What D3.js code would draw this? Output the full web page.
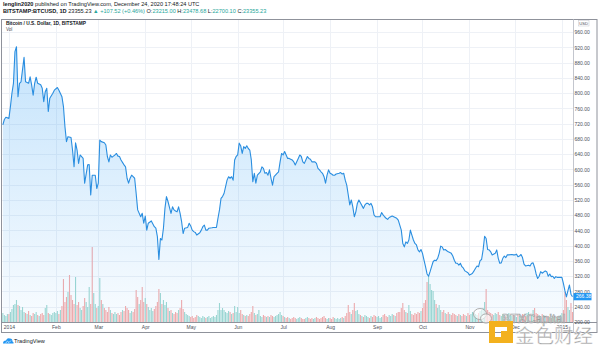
<!DOCTYPE html>
<html><head><meta charset="utf-8">
<script src="https://cdn.jsdelivr.net/npm/d3@7"></script>
<style>html,body{margin:0;padding:0;background:#fff;}svg{display:block;font-family:"Liberation Sans",Arial,sans-serif;}</style>
</head><body><svg id="c" width="600" height="348"></svg>
<script>
// Day offsets are counted from 2014-01-01
const startDate = "2014-01-01";
const monthTickDays = [0,31,59,90,120,151,181,212,243,273,304,334,365];
const monthTickLabels = ["2014","Feb","Mar","Apr","May","Jun","Jul","Aug","Sep","Oct","Nov","Dec","2015"];
const priceTicks = [200,240,280,320,360,400,440,480,520,560,600,640,680,720,760,800,840,880,920,960];

const priceDays = [
-4,-3,-2,0,1,2,3,4,5,6, 7,8,10,11,13,14,15,16,17,18, 19,21,22,23,24,25,26,27,29,30,
32,33,35,36,37,38,39,41,42,43, 44,45,46,47,49,50,52,53,54,55, 57,58,59,60,61,63,64,65,66,67,
68,69,70,71,72,73,74,76,77,78, 79,80,81,82,83,84,85,87,88,89, 90,
91,92,94,96,97,98,99,100,101,102, 103,104,105,107,108,109,110,111,112,113,
114,115,116,118,119,120,121,122,123,124, 126,127,128,129,130,131,132,134,135,137,
138,139,140,141,142,144,145,146,147,148, 149,150,151,152,153,154,155,156,157,158,
159,160,161,162,163,164,166,167,168,169, 170,171,172,173,174,175,177,178,179,180,
181,182,183,184,
185,186,187,188,189,191,192,193,194,195, 196,197,198,199,200,202,203,204,205,206,
207,208,209,210,211,212,213,214,215,216, 218,219,220,221,222,223,224,225,226,227,
228,229,230,231,232,234,235,236,237,238, 239,240,241,242,243,245,246,247,248,249,
250,251,252,253,254,256,257,258,259,260, 261,262,263,264,265,266,267,268,269,270,
271,272,273,274,275,276,277,278,
279,280,281,282,283,284,285,286,287,288, 289,290,292,293,294,295,296,297,298,299,
300,301,303,304,305,306,307,308,309,310, 311,312,313,314,315,316,317,318,319,321,
322,323,324,325,326,327,328,329,330,332, 333,334,335,336,337,338,339,340,341,343,
344,345,346,347,348,349,350,351,352,354, 355,356,357,358,359,360,361,362,363,365,
366,367,368,369,370,371,372];

const priceClose = [
717,731,737,734,765,800,826,909,922,791, 826,830,894,830,826,843,822,795,826,842, 826,822,813,778,804,813,752,787,800,808,
815,808,791,765,712,673,686,684,651,607, 670,651,616,638,629,564,612,613,533,585, 585,550,564,677,673,670,664,634,620,638,
632,635,638,642,635,634,625,612,607,577, 564,577,585,581,577,537,494,476,485,459, 478,
441,459,465,450,446,424,364,419,415,446, 498,529,516,485,502,494,491,489,502,485,
463,432,446,448,459,452,441,437,435,428, 434,441,450,454,441,441,446,447,448,448,
472,494,524,529,537,572,581,577,581,572, 625,634,638,669,662,642,660,655,662,655,
651,625,568,590,564,585,594,607,603,590, 592,585,599,577,559,581,590,594,620,642,
638,647,638,629,
629,627,625,620,612,629,638,634,620,616, 625,634,629,627,620,620,616,603,599,594,
590,581,564,585,599,590,588,585,585,588, 590,592,588,590,572,559,533,507,520,502,
476,489,511,520,513,498,507,511,511,507, 511,502,481,476,476,476,487,481,476,472,
469,474,476,478,476,472,467,454,441,406, 397,410,406,415,441,428,415,406,402,389,
384,390,380,362,345,326,320,332,
345,358,362,361,367,380,399,397,389,390, 387,384,380,373,362,354,354,349,354,345,
341,334,329,323,325,328,334,341,347,345, 361,364,389,425,419,390,389,384,376,380,
389,367,354,355,367,373,369,376,376,377, 376,376,378,371,373,377,369,352,347,349,
347,354,355,343,326,314,320,332,328,334, 332,320,326,319,320,314,319,317,317,317,
301,282,266,282,297,273,266.38];

// daily volume (thousand BTC), starting at day -4
const volumeStartDay = -4;
const volume = [
9,7,6,8,
8,10,13,17,18,22,17,16,12,15, 10,9,8,11,7,6,9,8,10,7, 6,8,9,7,14,17,9,8,7,9, 10,
9,11,8,12,16,43,20,25,30,47, 27,22,18,45,17,20,14,12,16,24, 20,15,35,18,75,29,18,14,
16,44,22,18,14,12,10,15,12,9, 8,10,8,9,7,10,12,11,16,14, 12,9,11,10,13,32,25,18,22,35, 20,
24,18,15,12,14,11,13,16,20,33, 29,18,22,17,20,14,11,12,9,8, 10,9,12,14,22,13,10,8,7,6,
5,6,4,5,7,6,5,4,6,5, 4,5,6,4,5,6,5,7,12,19, 12,14,12,10,9,11,10,8,9,16, 10,
15,9,12,8,7,6,7,6,8,10, 16,9,7,8,12,6,5,7,6,5, 6,5,7,6,5,6,7,8,10,7,
6,5,4,5,4,3,4,5,4,3, 4,5,4,3,3,4,5,4,3,4, 3,4,5,4,3,4,5,6,4,3, 4,
4,3,5,4,3,4,3,4,5,4, 6,9,17,10,8,12,19,11,12,8, 7,6,5,7,6,5,4,6,5,7, 6,
5,6,4,5,7,8,6,5,7,6, 8,7,6,9,10,10,14,19,12,10, 9,17,11,8,7,9,8,10,9,11,
14,19,22,40,46,38,32,31,22,18, 14,17,12,10,12,9,8,10,8,7, 9,8,7,6,8,7,6,8,7,6, 9,
7,8,10,9,8,7,9,11,12,14, 20,33,12,10,9,8,7,9,8,10, 7,6,8,7,6,8,9,7,6,7,
6,5,7,6,5,8,7,6,9,10, 8,7,12,14,9,8,7,6,8,7, 6,5,6,5,4,5,6,5,4,5, 7,
9,12,30,22,15,12,19,10];
const volumeUpDays = [277];
const volumeDownDays = [40, 55, 88];

const headerUser = "lenglin2020";
const headerRest = " published on TradingView.com, December 24, 2020 17:48:24 UTC";
const symbolLine = {sym:"BITSTAMP:BTCUSD, 1D", last:"23355.23", chg:"▲ +107.52 (+0.46%)", o:"23215.00", h:"23478.68", l:"22700.10", c:"23355.23"};
const legendTitle = "Bitcoin / U.S. Dollar, 1D, BITSTAMP";
const lastPrice = 266.38;

const svg = d3.select("#c");
const L = 2, R = 573, T = 20, B = 322;
const x = d3.scaleLinear().domain([-4.554, 372.34]).range([L, R]);
const y = d3.scaleLinear().domain([200, 992]).range([B, T]);
const yv = d3.scaleLinear().domain([0, 100]).range([B, B - 100]);

const data = priceDays.map((d, i) => ({d, v: priceClose[i]}));
function priceAt(day) {
  let v = data[0].v;
  for (const p of data) { if (p.d <= day) v = p.v; else break; }
  return v;
}
function isUp(day) {
  if (volumeUpDays.includes(day)) return true;
  if (volumeDownDays.includes(day)) return false;
  return priceAt(day) >= priceAt(day - 1);
}

const defs = svg.append("defs");
defs.append("clipPath").attr("id", "plot").append("rect")
  .attr("x", L).attr("y", T).attr("width", R - L).attr("height", B - T);
const grad = defs.append("linearGradient").attr("id", "ag")
  .attr("gradientUnits", "userSpaceOnUse").attr("x1", 0).attr("x2", 0).attr("y1", 30).attr("y2", B);
grad.append("stop").attr("offset", 0).attr("stop-color", "#2196f3").attr("stop-opacity", 0.28);
grad.append("stop").attr("offset", 1).attr("stop-color", "#2196f3").attr("stop-opacity", 0.03);

// grid
const g = svg.append("g").attr("clip-path", "url(#plot)");
g.selectAll("line.h").data(priceTicks).join("line")
  .attr("x1", L).attr("x2", R).attr("y1", d => Math.round(y(d)) + 0.5).attr("y2", d => Math.round(y(d)) + 0.5)
  .attr("stroke", "#eef1f6").attr("stroke-width", 1);
g.selectAll("line.v").data(monthTickDays).join("line")
  .attr("y1", T).attr("y2", B).attr("x1", d => Math.round(x(d)) + 0.5).attr("x2", d => Math.round(x(d)) + 0.5)
  .attr("stroke", "#eef1f6").attr("stroke-width", 1);

// volume
g.selectAll("rect.vol").data(volume).join("rect")
  .attr("x", (v, i) => x(volumeStartDay + i) - 0.55)
  .attr("width", 1.1)
  .attr("y", v => yv(v))
  .attr("height", v => B - yv(v))
  .attr("fill", (v, i) => isUp(volumeStartDay + i) ? "#9fd8d1" : "#f5abaa");

// area + line
const area = d3.area().x(p => x(p.d)).y0(B).y1(p => y(p.v));
const line = d3.line().x(p => x(p.d)).y(p => y(p.v));
g.append("path").datum(data).attr("d", area).attr("fill", "url(#ag)");
g.append("path").datum(data).attr("d", line).attr("fill", "none")
  .attr("stroke", "#2a8ee0").attr("stroke-width", 1.1).attr("stroke-linejoin", "round");

// frame
const frameColor = "#8f929b";
svg.append("rect").attr("x", 1.5).attr("y", 19.5).attr("width", 595.5).attr("height", 313)
  .attr("fill", "none").attr("stroke", frameColor);
svg.append("line").attr("x1", 1.5).attr("x2", 597).attr("y1", B + 0.5).attr("y2", B + 0.5).attr("stroke", frameColor);
svg.append("line").attr("x1", R + 0.5).attr("x2", R + 0.5).attr("y1", 19.5).attr("y2", 332.5).attr("stroke", "#c3c6ce");

// right axis
const yAxis = d3.axisRight(y).tickValues(priceTicks).tickSize(0).tickPadding(0).tickFormat(d3.format(".2f"));
const ya = svg.append("g").attr("transform", `translate(${R + 1.5},0)`).call(yAxis);
ya.select(".domain").remove();
ya.selectAll("text").attr("font-size", 5).attr("fill", "#4c4f59").attr("font-family", "Liberation Sans, Arial, sans-serif");

// bottom axis
const xAxis = d3.axisBottom(x).tickValues(monthTickDays).tickSize(0).tickPadding(0).tickFormat((d, i) => monthTickLabels[i]);
const xa = svg.append("g").attr("transform", `translate(0,${B + 3.5})`).call(xAxis);
xa.select(".domain").remove();
xa.selectAll("text").attr("font-size", 5).attr("fill", "#4c4f59").attr("font-family", "Liberation Sans, Arial, sans-serif");

// USD label
svg.append("rect").attr("x", 578.5).attr("y", 20.5).attr("width", 10.5).attr("height", 5.5)
  .attr("fill", "#fff").attr("stroke", "#c3c6ce").attr("stroke-width", 0.5);
svg.append("text").attr("x", 583.7).attr("y", 24.7).attr("text-anchor", "middle")
  .attr("font-size", 4.2).attr("fill", "#4c4f59").text("USD");

// last price tag
const ly = y(lastPrice);
svg.append("rect").attr("x", R + 0.5).attr("y", ly - 3.6).attr("width", 18).attr("height", 7.2).attr("fill", "#2196f3");
svg.append("text").attr("x", R + 3).attr("y", ly + 1.8).attr("font-size", 5).attr("fill", "#fff").text(d3.format(".2f")(lastPrice));

// header
const h1 = svg.append("text").attr("x", 3).attr("y", 6.3).attr("font-size", 5.6).attr("fill", "#131722");
h1.append("tspan").attr("font-weight", "bold").text(headerUser);
h1.append("tspan").text(headerRest);
const teal = "#26a69a";
const h2 = svg.append("text").attr("x", 3).attr("y", 12.6).attr("font-size", 5.6).attr("fill", "#131722");
h2.append("tspan").attr("font-weight", "bold").text(symbolLine.sym);
h2.append("tspan").text(" " + symbolLine.last + " ");
h2.append("tspan").attr("fill", teal).text(symbolLine.chg);
h2.append("tspan").text(" O:");
h2.append("tspan").attr("fill", teal).text(symbolLine.o);
h2.append("tspan").text(" H:");
h2.append("tspan").attr("fill", teal).text(symbolLine.h);
h2.append("tspan").text(" L:");
h2.append("tspan").attr("fill", teal).text(symbolLine.l);
h2.append("tspan").text(" C:");
h2.append("tspan").attr("fill", teal).text(symbolLine.c);

// legend
svg.append("text").attr("x", 6).attr("y", 24.6).attr("font-size", 4.8).attr("font-weight", "bold").attr("fill", "#131722").text(legendTitle);
svg.append("text").attr("x", 6).attr("y", 31).attr("font-size", 4.6).attr("fill", "#4c4f59").text("Vol");

// TradingView footer
const logo = svg.append("g").attr("transform", "translate(3,337.5)");
logo.append("path").attr("d", "M0,6 Q0,3 3,3 Q4,0 7,1 Q9.5,1 9.5,4 Q11,4.5 10.5,6 Z").attr("fill", "#2196f3");
logo.append("path").attr("d", "M2.5,5.5 L4.5,3.8 L6,5 L8,3").attr("fill", "none").attr("stroke", "#fff").attr("stroke-width", 0.7);
svg.append("text").attr("x", 14).attr("y", 343.2).attr("font-size", 5.6).attr("fill", "#131722").text("TradingView");

// watermark
const wm = svg.append("g");
wm.append("ellipse").attr("cx", 480).attr("cy", 314).attr("rx", 6.5).attr("ry", 5.5).attr("fill", "#fff").attr("fill-opacity", 0.6).attr("stroke", "#a5a5a5").attr("stroke-width", 0.9);
wm.append("ellipse").attr("cx", 486).attr("cy", 318.5).attr("rx", 5.5).attr("ry", 4.6).attr("fill", "#fff").attr("fill-opacity", 0.6).attr("stroke", "#a5a5a5").attr("stroke-width", 0.9);
wm.append("text").attr("x", 502).attr("y", 323).attr("font-size", 12.5).attr("fill", "#fff").attr("fill-opacity", 0.5)
  .attr("stroke", "#9e9e9e").attr("stroke-width", 0.6).text("BTXCapital");
wm.append("path").attr("fill", "#f3b11e").attr("fill-rule", "evenodd")
  .attr("d", "M489,321 h24 v22 h-24 z M495,327 h12 v4 h-6 v6 h-6 z");
wm.append("text").attr("x", 515).attr("y", 343).attr("font-size", 19.5).attr("font-family", "Noto Sans CJK SC")
  .attr("fill", "#a3a3a3").attr("stroke", "#ffffff").attr("stroke-width", 0.4).text("金色财经");
</script></body></html>
